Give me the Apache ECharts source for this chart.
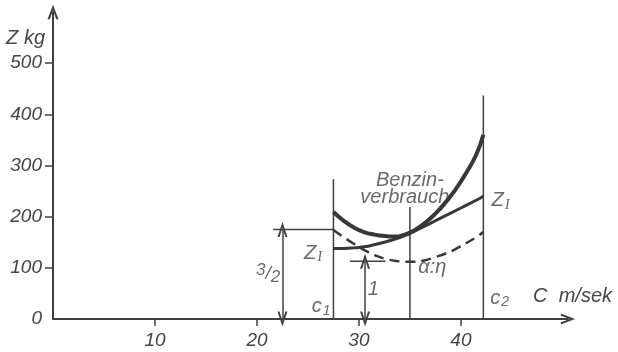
<!DOCTYPE html>
<html>
<head>
<meta charset="utf-8">
<script src="https://cdn.jsdelivr.net/npm/echarts@6/dist/echarts.min.js"></script>
<style>
html,body{margin:0;padding:0;background:#fff;}
#chart{width:618px;height:352px;}
</style>
</head>
<body>
<div id="chart"></div>
<script>
// ---- data ----
const speedC   = [27.5, 28.5, 29.5, 30.5, 31.5, 32.5, 33.5, 34.5, 35.5, 36.5, 37.5, 38.5, 39.5, 40.5, 41.5, 42.2];
const benzin   = [209, 192, 179, 170, 165, 162, 161, 165, 174, 188, 206, 228, 254, 285, 321, 360];
const zugkraft = [138, 138, 139, 141, 145, 150, 156, 163, 172, 182, 192, 202, 212, 222, 232, 240];
const alphaEta = [174, 160, 147, 135, 125, 118, 114, 112, 112, 115, 121, 128, 137, 148, 160, 170];

const guideX   = [27.5, 35, 42.2];      // c1, middle, c2
const guideTop = [273, 219, 437];

const levelThreeHalf = 175;  // 3/2 level
const levelOne = 113;        // 1 level
const threeHalfLineX = [21.6, 27.5];
const oneLineX = [29.1, 32.6];
const threeHalfArrowX = 22.5;
const oneArrowX = 30.6;

const xTicks = [10, 20, 30, 40];
const yTicks = [0, 100, 200, 300, 400, 500];

const ink = '#404040';
const txt = '#454545';
const FONT = 'Liberation Sans';

const chevron = 'path://M5,0 L10,13 L7.9,13 L5,4.8 L2.1,13 L0,13 Z';

function pairs(xs, ys){ return xs.map((x,i)=>[x, ys[i]]); }

const guideSeries = guideX.map((x,i)=>({
  type:'line', data:[[x,0],[x,guideTop[i]]], showSymbol:false, silent:true,
  lineStyle:{color:ink, width:1.5}, z:2
}));

const baseRich = {
  t:{fontSize:20, fontStyle:'italic', fontFamily:FONT, color:txt},
  s:{fontSize:15, fontStyle:'italic', fontFamily:'Liberation Serif', color:txt, padding:[9,0,0,1]},
  n:{fontSize:14, fontStyle:'italic', fontFamily:FONT, color:txt, padding:[9,0,0,1]},
  up:{fontSize:17, fontStyle:'italic', fontFamily:FONT, color:txt, padding:[0,0,7,0]},
  sl:{fontSize:19, fontStyle:'italic', fontFamily:FONT, color:txt},
  dn:{fontSize:17, fontStyle:'italic', fontFamily:FONT, color:txt, padding:[7,0,0,0]}
};

function note(x, y, text){
  return {value:[x,y], label:{show:true, position:'inside', formatter:text, rich:baseRich,
    fontSize:20, fontStyle:'italic', fontFamily:FONT, color:txt}};
}

const option = {
  animation:false,
  grid:{left:53, right:50, top:12, bottom:33},
  xAxis:{
    type:'value', min:0, max:50.5,
    splitLine:{show:false},
    axisLine:{lineStyle:{color:ink, width:2}, symbol:['none', chevron], symbolSize:[11,17]},
    axisTick:{customValues:xTicks, length:7, lineStyle:{color:ink, width:1.5}},
    axisLabel:{customValues:xTicks, margin:12, fontSize:19, fontStyle:'italic', fontFamily:FONT, color:txt},
    name:'C  m/sek', nameLocation:'end', nameGap:44,
    nameTextStyle:{align:'right', verticalAlign:'bottom', padding:[0,0,13,0], fontSize:20, fontStyle:'italic', fontFamily:FONT, color:txt}
  },
  yAxis:{
    type:'value', min:0, max:600,
    splitLine:{show:false},
    axisLine:{lineStyle:{color:ink, width:2}, symbol:['none', chevron], symbolSize:[11,15]},
    axisTick:{customValues:yTicks.slice(1), length:8, lineStyle:{color:ink, width:1.5}},
    axisLabel:{customValues:yTicks, margin:11, fontSize:19, fontStyle:'italic', fontFamily:FONT, color:txt},
    name:'Z kg', nameLocation:'end', nameGap:-36,
    nameTextStyle:{align:'right', verticalAlign:'bottom', padding:[0,8,0,0], fontSize:20, fontStyle:'italic', fontFamily:FONT, color:txt}
  },
  series:[
    ...guideSeries,
    {type:'line', data:[[threeHalfLineX[0],levelThreeHalf],[threeHalfLineX[1],levelThreeHalf]], showSymbol:false, silent:true, lineStyle:{color:ink,width:1.5}},
    {type:'line', data:[[oneLineX[0],levelOne],[oneLineX[1],levelOne]], showSymbol:false, silent:true, lineStyle:{color:ink,width:1.5}},
    {type:'line', data:[], silent:true,
      markLine:{silent:true, symbol:[chevron, chevron], symbolSize:[10,15], label:{show:false},
        lineStyle:{color:ink, width:1.5, type:'solid'},
        itemStyle:{color:ink},
        data:[
          [{coord:[threeHalfArrowX,0]},{coord:[threeHalfArrowX,levelThreeHalf]}],
          [{coord:[oneArrowX,0]},{coord:[oneArrowX,levelOne]}]
        ]}},
    {name:'Benzinverbrauch', type:'line', smooth:true, showSymbol:false, data:pairs(speedC, benzin),
      lineStyle:{color:'#383838', width:4}, z:5},
    {name:'Z_I', type:'line', smooth:true, showSymbol:false, data:pairs(speedC, zugkraft),
      lineStyle:{color:'#383838', width:3}, z:4},
    {name:'α:η', type:'line', smooth:true, showSymbol:false, data:pairs(speedC, alphaEta),
      lineStyle:{color:'#383838', width:2.5, type:[10,6]}, z:4},
    {type:'scatter', symbolSize:0, silent:true, data:[
      note(35.0, 270, 'Benzin-'),
      note(34.5, 238, 'verbrauch'),
      note(43.9, 232, '{t|Z}{s|I}'),
      note(25.5, 129, '{t|Z}{s|I}'),
      note(26.3, 25, '{t|c}{n|1}'),
      note(43.8, 41, '{t|c}{n|2}'),
      note(21.1, 88, '{up|3}{sl|/}{dn|2}'),
      note(31.4, 57, '1'),
      note(37.2, 100, 'α:η')
    ]}
  ]
};
echarts.init(document.getElementById('chart'), null, {renderer:'canvas'}).setOption(option);
</script>
</body>
</html>
